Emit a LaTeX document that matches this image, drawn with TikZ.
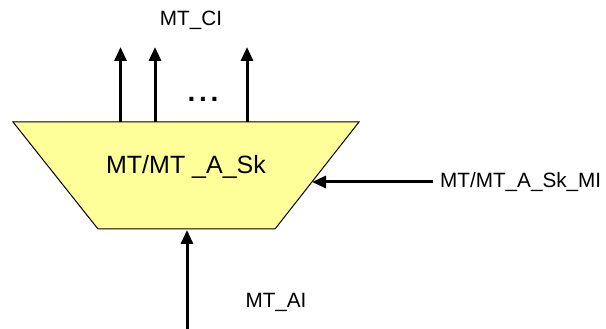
\documentclass[tikz,border=0pt]{standalone}
\usepackage{fontspec}
\setmainfont{Liberation Sans}
\usetikzlibrary{arrows.meta,positioning,calc}
\definecolor{MuxYellow}{RGB}{255,255,153}
\definecolor{MuxBlack}{RGB}{0,0,0}
\tikzset{
  mux/body/.style={
    draw=MuxBlack,
    line width=1pt,
    fill=MuxYellow
  },
  mux/title/.style={
    font=\fontsize{25}{28}\selectfont,
    text=MuxBlack,
    inner sep=0pt
  },
  mux/label/.style={
    font=\fontsize{20.7}{24}\selectfont,
    text=MuxBlack,
    inner sep=0pt
  },
  mux/dots/.style={
    font=\fontsize{28}{30}\selectfont\bfseries,
    text=MuxBlack,
    inner sep=0pt
  },
  mux/arrow/.style={-{Triangle[length=14pt,width=12pt]}, line width=3pt, draw=MuxBlack}
}

\begin{document}
\begin{tikzpicture}[x=1pt,y=1pt]
  \useasboundingbox (0,0) rectangle (606,329);
  % trapezoid corners
  \coordinate (tl) at (13,207);
  \coordinate (tr) at (359,207);
  \coordinate (br) at (275,100);
  \coordinate (bl) at (98,100);
  \draw[mux/body] (tl) -- (tr) -- (br) -- (bl) -- cycle;
  \node[mux/title] (mux) at (186,162) {MT/MT \_A\_Sk};

  % outputs
  \coordinate (out1) at (120.5,207);
  \coordinate (out2) at (155,207);
  \coordinate (out3) at (247,207);
  \coordinate (end1) at (120.5,282);
  \coordinate (end2) at (155,282);
  \coordinate (end3) at (247,282);
  \draw[mux/arrow] (out1) -- (end1);
  \draw[mux/arrow] (out2) -- (end2);
  \draw[mux/arrow] (out3) -- (end3);
  \node[mux/dots] (dots) at (203,230) {.\hspace{3.7pt}.\hspace{3.7pt}.};
  \node[mux/label] (ci) at (191,309) {MT\_CI};

  % control input
  \node[mux/label,anchor=west] (mi) at (440,147) {MT/MT\_A\_Sk\_MI};
  \coordinate (miend) at (312,147);
  \draw[mux/arrow] (mi.west) ++(-7,0) -- (miend);

  % adapted input
  \coordinate (aistart) at (187,0);
  \coordinate (aiend) at (187,99);
  \draw[mux/arrow] (aistart) -- (aiend);
  \node[mux/label] (ai) at (276,27) {MT\_AI};
\end{tikzpicture}
\end{document}
